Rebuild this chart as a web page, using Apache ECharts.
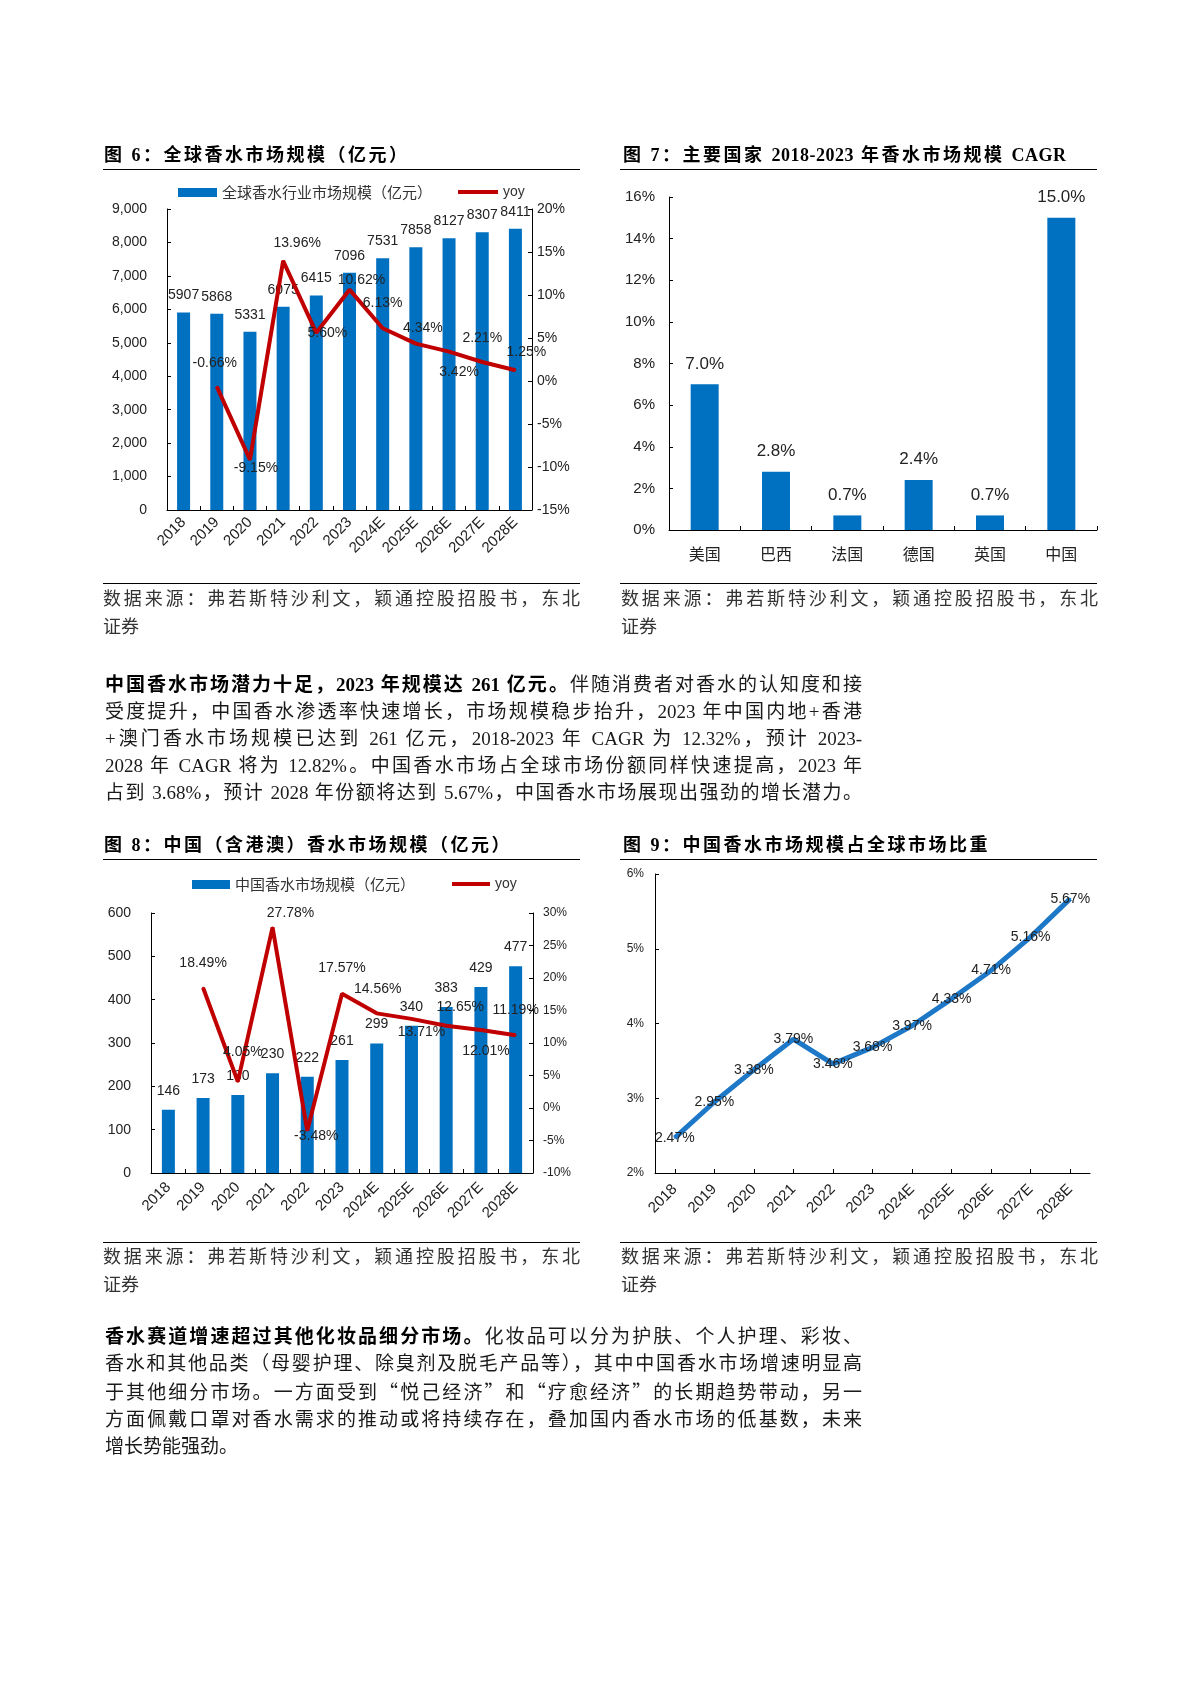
<!DOCTYPE html>
<html>
<head>
<meta charset="utf-8">
<script src="https://cdn.jsdelivr.net/npm/echarts@6/dist/echarts.min.js"></script>
<style>
  html, body { margin:0; padding:0; background:#fff; }
  #page { position:relative; width:1200px; height:1698px; overflow:hidden; background:#fff; }
  #chart { position:absolute; left:0; top:0; width:1200px; height:1698px; }
  .title { position:absolute; font-family:"Liberation Serif","Noto Sans CJK SC",serif; font-weight:bold; font-size:18px; letter-spacing:2.5px; line-height:24px; color:#000; white-space:nowrap; z-index:2; }
  .title .lat { letter-spacing:0.5px; }
  .rule { position:absolute; height:0; border-top:1.5px solid #000; z-index:2; }
  .src { position:absolute; width:477px; font-family:"Liberation Serif","Noto Sans CJK SC",serif; font-size:18px; line-height:28px; color:#333; z-index:2; }
  .src div.j { text-align:justify; text-align-last:justify; }
  .para { position:absolute; left:105px; width:757px; font-family:"Liberation Serif","Noto Sans CJK SC",serif; font-size:19px; line-height:27px; color:#1a1a1a; z-index:2; }
  .para div.j { text-align:justify; text-align-last:justify; }
  .para b { font-weight:bold; color:#000; }
  .cjk { font-family:"Noto Sans CJK SC",sans-serif; }
</style>
</head>
<body>
<div id="page">
  <div id="chart"></div>

  <div class="title" style="left:104px;top:143px;">图 6：全球香水市场规模（亿元）</div>
  <div class="rule" style="left:103px;top:169px;width:477px;"></div>
  <div class="title" style="left:623px;top:143px;">图 7：主要国家 <span class="lat">2018-2023</span> 年香水市场规模 <span class="lat">CAGR</span></div>
  <div class="rule" style="left:620px;top:169px;width:477px;"></div>

  <div class="rule" style="left:103px;top:583px;width:477px;"></div>
  <div class="rule" style="left:620px;top:583px;width:477px;"></div>
  <div class="src" style="left:103px;top:585px;"><div class="j">数据来源：弗若斯特沙利文，颖通控股招股书，东北</div><div>证券</div></div>
  <div class="src" style="left:621px;top:585px;"><div class="j">数据来源：弗若斯特沙利文，颖通控股招股书，东北</div><div>证券</div></div>

  <div class="para" style="top:671px;">
    <div class="j"><b>中国香水市场潜力十足，2023 年规模达 261 亿元。</b>伴随消费者对香水的认知度和接</div>
    <div class="j">受度提升，中国香水渗透率快速增长，市场规模稳步抬升，2023 年中国内地+香港</div>
    <div class="j">+澳门香水市场规模已达到 261 亿元，2018-2023 年 CAGR 为 12.32%，预计 2023-</div>
    <div class="j">2028 年 CAGR 将为 12.82%。中国香水市场占全球市场份额同样快速提高，2023 年</div>
    <div class="j">占到 3.68%，预计 2028 年份额将达到 5.67%，中国香水市场展现出强劲的增长潜力。</div>
  </div>

  <div class="title" style="left:104px;top:833px;">图 8：中国（含港澳）香水市场规模（亿元）</div>
  <div class="rule" style="left:103px;top:859px;width:477px;"></div>
  <div class="title" style="left:623px;top:833px;">图 9：中国香水市场规模占全球市场比重</div>
  <div class="rule" style="left:620px;top:859px;width:477px;"></div>

  <div class="rule" style="left:103px;top:1242px;width:477px;"></div>
  <div class="rule" style="left:620px;top:1242px;width:477px;"></div>
  <div class="src" style="left:103px;top:1243px;"><div class="j">数据来源：弗若斯特沙利文，颖通控股招股书，东北</div><div>证券</div></div>
  <div class="src" style="left:621px;top:1243px;"><div class="j">数据来源：弗若斯特沙利文，颖通控股招股书，东北</div><div>证券</div></div>

  <div class="para" style="top:1323px;">
    <div class="j"><b>香水赛道增速超过其他化妆品细分市场。</b>化妆品可以分为护肤、个人护理、彩妆、</div>
    <div class="j">香水和其他品类（母婴护理、除臭剂及脱毛产品等），其中中国香水市场增速明显高</div>
    <div class="j">于其他细分市场。一方面受到<span class="cjk">“</span>悦己经济<span class="cjk">”</span>和<span class="cjk">“</span>疗愈经济<span class="cjk">”</span>的长期趋势带动，另一</div>
    <div class="j">方面佩戴口罩对香水需求的推动或将持续存在，叠加国内香水市场的低基数，未来</div>
    <div>增长势能强劲。</div>
  </div>
</div>

<script>
// ---------------- data ----------------
const years = ['2018','2019','2020','2021','2022','2023','2024E','2025E','2026E','2027E','2028E'];
const globalSize = [5907, 5868, 5331, 6075, 6415, 7096, 7531, 7858, 8127, 8307, 8411];
const globalYoy = [null, -0.66, -9.15, 13.96, 5.60, 10.62, 6.13, 4.34, 3.42, 2.21, 1.25];
const countries = ['美国', '巴西', '法国', '德国', '英国', '中国'];
const countryCagr = [7.0, 2.8, 0.7, 2.4, 0.7, 15.0];
const chinaSize = [146, 173, 180, 230, 222, 261, 299, 340, 383, 429, 477];
const chinaYoy = [null, 18.49, 4.05, 27.78, -3.48, 17.57, 14.56, 13.71, 12.65, 12.01, 11.19];
const chinaShare = [2.47, 2.95, 3.38, 3.79, 3.46, 3.68, 3.97, 4.33, 4.71, 5.16, 5.67];

const nameGlobal = '全球香水行业市场规模（亿元）';
const nameChina = '中国香水市场规模（亿元）';

// ---------------- styling ----------------
const BLUE = '#0070C0';
const RED = '#C00000';
const LINEBLUE = '#1E78C8';
const TXT = '#222';
const FONT = 'Liberation Sans, Noto Sans CJK SC, sans-serif';

// label offsets (label centre relative to point) for the yoy lines
const yoyOffsets6 = [[0,0],[-2,-24],[6,8],[14,-18],[11,0],[12,-10],[0,-25],[7,-16],[10,21],[0,-24],[11,-18]];
const yoyOffsets8 = [[0,0],[0,-25],[5,-30],[18,-14],[9,6],[0,-26],[1,-24],[10,13],[14,-19],[5,21],[0,-25]];

const pct2 = v => (v < 0 ? '-' : '') + Math.abs(v).toFixed(2) + '%';

function axisLine() { return { show: true, lineStyle: { color: '#000', width: 1 } }; }
function tick(extra) { return Object.assign({ show: true, inside: true, length: 4, lineStyle: { color: '#000' } }, extra || {}); }

function catAxis(grid, data, label, tickExtra) {
  return {
    type: 'category', gridIndex: grid, data: data,
    axisLine: axisLine(), axisTick: tick(tickExtra),
    axisLabel: Object.assign({ interval: 0, color: TXT, fontFamily: FONT }, label),
    splitLine: { show: false }
  };
}
function valAxis(grid, min, max, interval, pos, label) {
  return {
    type: 'value', gridIndex: grid, min: min, max: max, interval: interval, position: pos,
    axisLine: axisLine(), axisTick: tick(),
    axisLabel: Object.assign({ color: TXT, fontFamily: FONT }, label),
    splitLine: { show: false }
  };
}

const option = {
  animation: false,
  textStyle: { fontFamily: FONT },
  grid: [
    { left: 167, top: 209, width: 365, height: 301, outerBoundsMode: 'none' },
    { left: 669, top: 197, width: 428, height: 333, outerBoundsMode: 'none' },
    { left: 151, top: 913, width: 382, height: 260, outerBoundsMode: 'none' },
    { left: 655, top: 874, width: 435, height: 299, outerBoundsMode: 'none' }
  ],
  legend: [
    { left: 178, top: 185, padding: 0, icon: 'rect', itemWidth: 39, itemHeight: 9, data: [nameGlobal],
      itemStyle: { borderWidth: 0 }, textStyle: { fontSize: 15, color: '#333', fontFamily: 'Noto Sans CJK SC' } },
    { left: 458, top: 185, padding: 0, icon: 'rect', itemWidth: 40, itemHeight: 4, data: ['yoy'],
      itemStyle: { borderWidth: 0 }, textStyle: { fontSize: 14, color: '#333', fontFamily: FONT } },
    { left: 192, top: 877, padding: 0, icon: 'rect', itemWidth: 38, itemHeight: 9, data: [nameChina],
      itemStyle: { borderWidth: 0 }, textStyle: { fontSize: 15, color: '#333', fontFamily: 'Noto Sans CJK SC' } },
    { left: 452, top: 877, padding: 0, icon: 'rect', itemWidth: 38, itemHeight: 4, data: ['yoy'],
      itemStyle: { borderWidth: 0 }, textStyle: { fontSize: 14, color: '#333', fontFamily: FONT } }
  ],
  xAxis: [
    catAxis(0, years, { rotate: 45, margin: 10, fontSize: 15 }),
    catAxis(1, countries, { margin: 16, fontSize: 16, fontFamily: 'Noto Sans CJK SC' }),
    catAxis(2, years, { rotate: 45, margin: 12, fontSize: 15 }),
    catAxis(3, years, { rotate: 45, margin: 14, fontSize: 15 }, { alignWithLabel: true })
  ],
  yAxis: [
    valAxis(0, 0, 9000, 1000, 'left', { margin: 20, fontSize: 14, formatter: v => v.toLocaleString('en-US') }),
    valAxis(0, -15, 20, 5, 'right', { margin: 5, fontSize: 14, formatter: v => v + '%' }),
    valAxis(1, 0, 16, 2, 'left', { margin: 14, fontSize: 15, formatter: v => v + '%' }),
    valAxis(2, 0, 600, 100, 'left', { margin: 20, fontSize: 14 }),
    valAxis(2, -10, 30, 5, 'right', { margin: 10, fontSize: 12, formatter: v => v + '%' }),
    valAxis(3, 2, 6, 1, 'left', { margin: 11, fontSize: 12, formatter: v => v + '%' })
  ],
  series: [
    { name: nameGlobal, type: 'bar', xAxisIndex: 0, yAxisIndex: 0, data: globalSize, barWidth: 13,
      itemStyle: { color: BLUE },
      label: { show: true, position: 'top', distance: 10, fontSize: 14, color: TXT } },
    { name: 'yoy', type: 'line', xAxisIndex: 0, yAxisIndex: 1,
      data: globalYoy.map((v, i) => ({ value: v, label: { offset: yoyOffsets6[i] } })),
      symbol: 'circle', symbolSize: 2, showSymbol: true,
      itemStyle: { color: RED, borderWidth: 0 }, lineStyle: { color: RED, width: 4 }, z: 5,
      label: { show: true, position: 'inside', fontSize: 14, color: TXT, formatter: p => pct2(p.value) } },
    { name: 'CAGR', type: 'bar', xAxisIndex: 1, yAxisIndex: 2, data: countryCagr, barWidth: 28,
      itemStyle: { color: BLUE },
      label: { show: true, position: 'top', distance: 12, fontSize: 17, color: TXT, formatter: p => p.value.toFixed(1) + '%' } },
    { name: nameChina, type: 'bar', xAxisIndex: 2, yAxisIndex: 3, data: chinaSize, barWidth: 13,
      itemStyle: { color: BLUE },
      label: { show: true, position: 'top', distance: 12, fontSize: 14, color: TXT } },
    { name: 'yoy', type: 'line', xAxisIndex: 2, yAxisIndex: 4,
      data: chinaYoy.map((v, i) => ({ value: v, label: { offset: yoyOffsets8[i] } })),
      symbol: 'circle', symbolSize: 2, showSymbol: true,
      itemStyle: { color: RED, borderWidth: 0 }, lineStyle: { color: RED, width: 4 }, z: 5,
      label: { show: true, position: 'inside', fontSize: 14, color: TXT, formatter: p => pct2(p.value) } },
    { name: 'share', type: 'line', xAxisIndex: 3, yAxisIndex: 5, data: chinaShare,
      symbol: 'circle', symbolSize: 2, showSymbol: true,
      itemStyle: { color: LINEBLUE, borderWidth: 0 }, lineStyle: { color: LINEBLUE, width: 5 },
      label: { show: true, position: 'inside', fontSize: 14, color: TXT, formatter: p => p.value.toFixed(2) + '%' } }
  ]
};

const chart = echarts.init(document.getElementById('chart'), null, { renderer: 'canvas' });
chart.setOption(option);
</script>
</body>
</html>
